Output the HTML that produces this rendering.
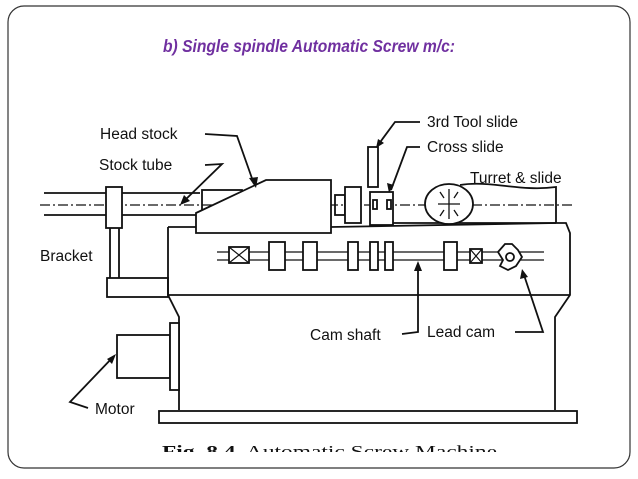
<!DOCTYPE html>
<html><head><meta charset="utf-8"><style>
html,body{margin:0;padding:0;background:#fff;}
svg{display:block}
</style></head><body>
<svg width="638" height="479" viewBox="0 0 638 479" xmlns="http://www.w3.org/2000/svg">
<rect x="8" y="6" width="622" height="462" rx="16" fill="#fff" stroke="#333" stroke-width="1.2"/>
<text x="163" y="52" font-family="Liberation Sans Narrow, Liberation Sans, sans-serif" font-size="17.5" font-style="italic" font-weight="bold" fill="#7030a0" textLength="292" lengthAdjust="spacingAndGlyphs">b) Single spindle Automatic Screw m/c:</text>
<g fill="none" stroke="#111" stroke-width="1.8">
<line x1="44" y1="193" x2="200" y2="193"/>
<line x1="44" y1="215" x2="196" y2="215"/>
<line x1="40" y1="205" x2="573" y2="205" stroke-dasharray="10,3,2,3" stroke-width="1.3"/>
<rect x="106" y="187" width="16" height="41" fill="#fff"/>
<line x1="110" y1="228" x2="110" y2="278"/>
<line x1="119" y1="228" x2="119" y2="278"/>
<rect x="107" y="278" width="61" height="19"/>
<rect x="202" y="190" width="40" height="23"/>
<path d="M196 213 L266 180 L331 180 L331 233 L196 233 Z" fill="#fff"/>
<path d="M168 227 L168 295 L179 317 L179 410 M168 227 L196 227 M331 227 L556 223 L566 223 L570 233 L570 295 L555 317 L555 410"/>
<line x1="168" y1="295" x2="570" y2="295"/>
<rect x="159" y="411" width="418" height="12"/>
<rect x="335" y="195" width="10" height="20"/>
<rect x="345" y="187" width="16" height="36" fill="#fff"/>
<rect x="370" y="192" width="23" height="33" fill="#fff"/>
<rect x="373" y="200" width="4" height="9"/>
<rect x="387" y="200" width="4" height="9"/>
<rect x="368" y="147" width="10" height="40"/>
<line x1="393" y1="223" x2="556" y2="223"/>
<path d="M460 185 C490 180 520 192 556 187 L556 223"/>
<ellipse cx="449" cy="204" rx="24" ry="20" fill="#fff"/>
<path d="M449 189 L449 219 M438 204 L460 204 M440 192 L444 198 M458 192 L454 198 M440 216 L444 210 M458 216 L454 210" stroke-width="1.3"/>
<line x1="217" y1="252" x2="544" y2="252" stroke-width="1.2"/>
<line x1="217" y1="260" x2="544" y2="260" stroke-width="1.2"/>
<rect x="229" y="247" width="20" height="16" fill="#fff"/>
<path d="M229 247 L249 263 M249 247 L229 263" stroke-width="1.2"/>
<rect x="269" y="242" width="16" height="28" fill="#fff"/>
<rect x="303" y="242" width="14" height="28" fill="#fff"/>
<rect x="348" y="242" width="10" height="28" fill="#fff"/>
<rect x="370" y="242" width="8" height="28" fill="#fff"/>
<rect x="385" y="242" width="8" height="28" fill="#fff"/>
<rect x="444" y="242" width="13" height="28" fill="#fff"/>
<rect x="470" y="249" width="12" height="14" fill="#fff"/>
<path d="M470 249 L482 263 M482 249 L470 263" stroke-width="1.2"/>
<path d="M498 252 L505 244 L512 244 L518 250 L522 257 L516 266 L508 270 L500 266 L503 260 Z" fill="#fff"/>
<circle cx="510" cy="257" r="4"/>
<rect x="117" y="335" width="53" height="43"/>
<rect x="170" y="323" width="9" height="67" fill="#fff"/>
<path d="M205 134 L237 136 L254 184"/>
<path d="M205 165 L222 164 L182 203"/>
<path d="M420 122 L395 122 L378 145"/>
<path d="M420 147 L407 147 L391 190"/>
<path d="M402 334 L418 332 L418 264"/>
<path d="M515 332 L543 332 L523 272"/>
<path d="M88 408 L70 402 L114 356"/>
</g>
<g fill="#111">
<path d="M256 188 L249 178 L258 177 Z"/>
<path d="M180 205 L184 195 L190 201 Z"/>
<path d="M376 148 L378 139 L384 143 Z"/>
<path d="M389 193 L387 183 L394 185 Z"/>
<path d="M418 261 L414 271 L422 271 Z"/>
<path d="M522 269 L520 279 L528 277 Z"/>
<path d="M116 354 L107 359 L112 364 Z"/>
</g>
<g font-family="Liberation Sans, sans-serif" font-size="15.5" fill="#111">
<text x="100" y="139">Head stock</text>
<text x="99" y="170">Stock tube</text>
<text x="40" y="261">Bracket</text>
<text x="427" y="127">3rd Tool slide</text>
<text x="427" y="152">Cross slide</text>
<text x="470" y="183">Turret &amp; slide</text>
<text x="310" y="340">Cam shaft</text>
<text x="427" y="337">Lead cam</text>
<text x="95" y="414">Motor</text>
</g>
<clipPath id="c"><rect x="0" y="0" width="638" height="452"/></clipPath>
<text clip-path="url(#c)" x="162" y="457" font-family="Liberation Serif, serif" font-size="17" fill="#111" textLength="335" lengthAdjust="spacingAndGlyphs"><tspan font-weight="bold">Fig. 8.4.</tspan> Automatic Screw Machine</text>
</svg>
</body></html>
